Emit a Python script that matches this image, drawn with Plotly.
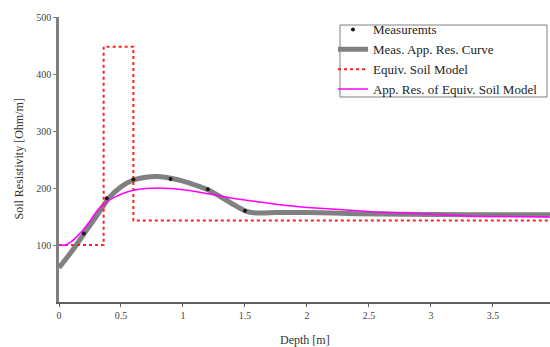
import plotly.graph_objects as go

# Measurements
meas_depth = [0.2, 0.385, 0.6, 0.9, 1.2, 1.5]
meas_res = [120, 182, 215, 216, 198, 160]

# Measured apparent resistivity curve
curve_depth = [0, 0.1, 0.2, 0.3, 0.4, 0.5, 0.6, 0.7, 0.8, 0.9, 1.0, 1.1, 1.2, 1.3, 1.4, 1.5,
               1.6, 1.75, 2.0, 2.4, 2.8, 3.3, 3.96]
curve_res = [60, 88, 119, 150, 182, 202, 214, 219, 220, 217, 212, 205, 197, 185, 172, 160,
             156, 157, 157, 155, 154, 153, 153]

# Equivalent soil model (layers)
model_depth = [0, 0.36, 0.6, 3.96]
model_res = [100, 448, 143, 143]

# Apparent resistivity of equivalent soil model
eq_depth = [0, 0.05, 0.1, 0.15, 0.2, 0.25, 0.3, 0.35, 0.4, 0.45, 0.5, 0.6, 0.7, 0.8, 0.9, 1.0,
            1.1, 1.2, 1.4, 1.6, 1.8, 2.0, 2.2, 2.55, 3.0, 3.3, 3.96]
eq_res = [100, 100, 106, 116, 128, 142, 158, 170, 178, 184, 189, 196, 199, 200, 199, 197,
          194, 190, 182, 176, 170, 166, 163, 158, 154, 151, 149]

x_ticks = [0, 0.5, 1, 1.5, 2, 2.5, 3, 3.5]
x_tick_labels = ["0", "0.5", "1", "1.5", "2", "2.5", "3", "3.5"]
y_ticks = [100, 200, 300, 400, 500]

SERIF = "Liberation Serif"

fig = go.Figure()
fig.add_trace(go.Scatter(x=curve_depth, y=curve_res, mode="lines", name="Meas. App. Res. Curve",
                         legendrank=2,
                         line=dict(color="#808080", width=5, shape="spline", smoothing=0.6)))
fig.add_trace(go.Scatter(x=model_depth, y=model_res, mode="lines", name="Equiv. Soil Model",
                         legendrank=3,
                         line=dict(color="#ff2020", width=2, dash="dot", shape="hv")))
fig.add_trace(go.Scatter(x=eq_depth, y=eq_res, mode="lines", name="App. Res. of Equiv. Soil Model",
                         legendrank=4,
                         line=dict(color="#ff00ff", width=1.5, shape="spline", smoothing=0.6)))
fig.add_trace(go.Scatter(x=meas_depth, y=meas_res, mode="markers", name="Measuremts",
                         legendrank=1,
                         marker=dict(color="#1a1a1a", size=4)))

# legend frame (paper coords)
fig.add_shape(type="rect", xref="paper", yref="paper",
              x0=0.5723, x1=0.9939, y0=0.7193, y1=0.9719,
              line=dict(color="#808080", width=1), fillcolor="rgba(0,0,0,0)", layer="above")

fig.update_layout(
    width=550, height=347,
    margin=dict(l=59, r=0, t=17, b=45),
    paper_bgcolor="white", plot_bgcolor="white",
    font=dict(family=SERIF, color="#333333"),
    showlegend=True,
    legend=dict(x=0.558, xanchor="left", y=1.009, yanchor="top",
                borderwidth=0, bgcolor="rgba(0,0,0,0)",
                font=dict(family=SERIF, size=13, color="#222222"),
                itemwidth=30, tracegroupgap=0),
    xaxis=dict(range=[0, 3.96], tickvals=x_ticks, ticktext=x_tick_labels,
               showgrid=False, zeroline=False, showline=True, linecolor="#606060", linewidth=1.5,
               ticks="outside", ticklen=3, tickcolor="#606060",
               tickfont=dict(family=SERIF, size=10, color="#444444")),
    yaxis=dict(range=[0, 500], tickvals=y_ticks,
               showgrid=False, zeroline=False, showline=True, linecolor="#808080", linewidth=2.5,
               ticks="outside", ticklen=3, tickcolor="#808080",
               tickfont=dict(family=SERIF, size=10, color="#444444")),
    annotations=[
        dict(text="Depth [m]", xref="paper", yref="paper", x=0.5, y=-0.133,
             xanchor="center", yanchor="middle", showarrow=False,
             font=dict(family=SERIF, size=12, color="#333333")),
        dict(text="Soil Resistivity [Ohm/m]", xref="paper", yref="paper", x=-0.0835, y=0.5,
             xanchor="center", yanchor="middle", showarrow=False, textangle=-90,
             font=dict(family=SERIF, size=12, color="#333333")),
    ],
)

fig.write_html("out.html")
